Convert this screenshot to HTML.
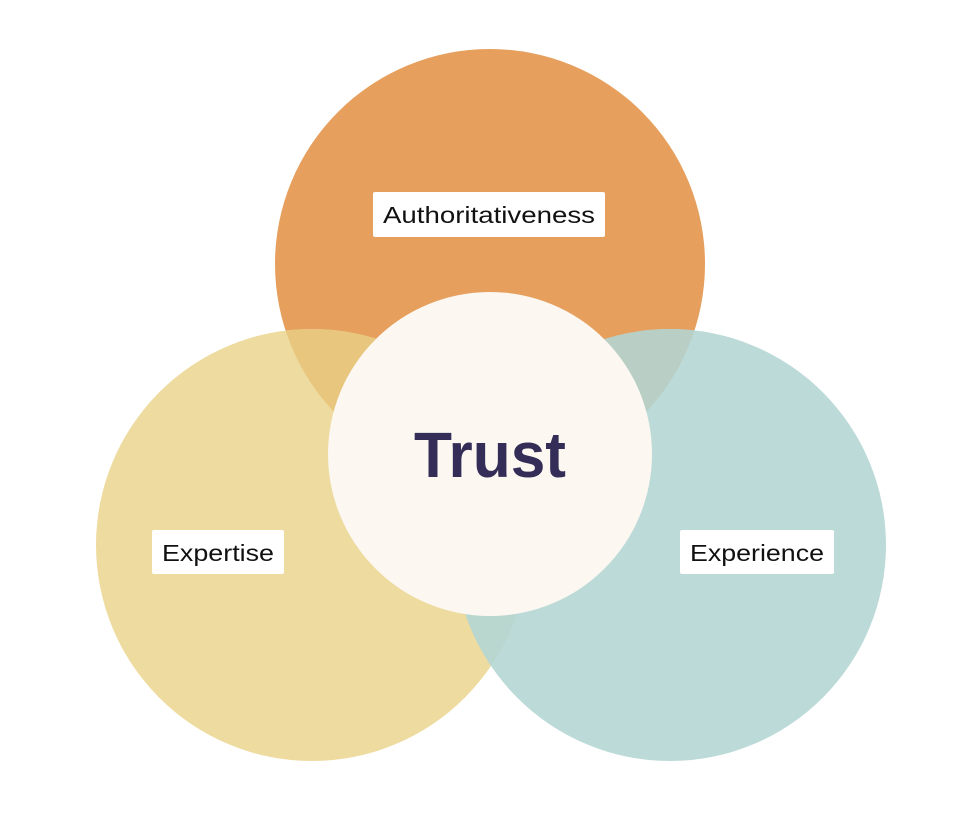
<!DOCTYPE html>
<html><head><meta charset="utf-8"><style>html,body{margin:0;padding:0;background:#fff}</style></head>
<body>
<svg width="976" height="826" viewBox="0 0 976 826" xmlns="http://www.w3.org/2000/svg" style="display:block">
<defs>
<clipPath id="ct"><circle cx="490" cy="264" r="215"/></clipPath>
<clipPath id="cl"><circle cx="312" cy="545" r="216"/></clipPath>
</defs>
<circle cx="490" cy="264" r="215" fill="#E69F5C"/>
<circle cx="312" cy="545" r="216" fill="#EEDBA0"/>
<circle cx="670" cy="545" r="216" fill="#BCDAD7"/>
<circle cx="312" cy="545" r="216" fill="#E8C67E" clip-path="url(#ct)"/>
<circle cx="670" cy="545" r="216" fill="#B9CFC6" clip-path="url(#ct)"/>
<circle cx="670" cy="545" r="216" fill="#B9D6CF" clip-path="url(#cl)"/>
<circle cx="490" cy="454" r="162" fill="#FCF7F1"/>
<text x="490" y="477" text-anchor="middle" font-family="Liberation Sans, sans-serif" font-weight="bold" font-size="64" fill="#332D57" textLength="152" lengthAdjust="spacingAndGlyphs">Trust</text>
<rect x="373" y="192" width="232" height="45" rx="2" fill="#fff"/>
<text x="489" y="223" text-anchor="middle" font-family="Liberation Sans, sans-serif" font-size="23" fill="#111" textLength="212" lengthAdjust="spacingAndGlyphs">Authoritativeness</text>
<rect x="152" y="530" width="132" height="44" rx="2" fill="#fff"/>
<text x="218" y="561" text-anchor="middle" font-family="Liberation Sans, sans-serif" font-size="23" fill="#111" textLength="112" lengthAdjust="spacingAndGlyphs">Expertise</text>
<rect x="680" y="530" width="154" height="44" rx="2" fill="#fff"/>
<text x="757" y="561" text-anchor="middle" font-family="Liberation Sans, sans-serif" font-size="23" fill="#111" textLength="134" lengthAdjust="spacingAndGlyphs">Experience</text>
</svg>
</body></html>
